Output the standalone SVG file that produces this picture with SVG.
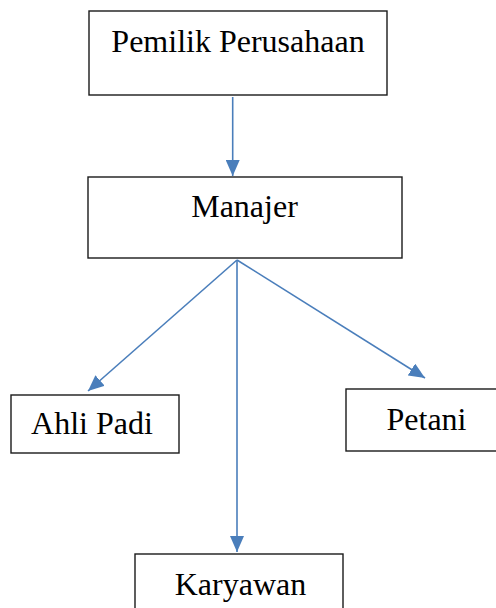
<svg xmlns="http://www.w3.org/2000/svg" width="496" height="608" viewBox="0 0 496 608">
<style>
.box{fill:#fff;stroke:#1a1a1a;stroke-width:1.4}
.lbl{font-family:'Liberation Serif','Times New Roman',serif;font-size:32px;fill:#000;text-anchor:middle}
.conn{stroke:#4a7ebb;stroke-width:1.6;fill:none}
</style>
<defs>
<marker id="arr" markerUnits="userSpaceOnUse" markerWidth="16" markerHeight="14" viewBox="0 0 16 14" refX="16" refY="7" orient="auto">
<path d="M0,0 L16,7 L0,14 Z" fill="#4a7ebb"/>
</marker>
</defs>
<rect width="496" height="608" fill="#fff"/>
<g id="pemilik"><rect class="box" x="89" y="11" width="298" height="84"/><text class="lbl" x="238" y="52">Pemilik Perusahaan</text></g>
<g id="manajer"><rect class="box" x="88" y="177" width="314" height="81"/><text class="lbl" x="244.5" y="217">Manajer</text></g>
<g id="ahli"><rect class="box" x="11" y="395" width="168" height="58"/><text class="lbl" x="92" y="434">Ahli Padi</text></g>
<g id="petani"><rect class="box" x="346" y="389" width="152" height="62"/><text class="lbl" x="426.5" y="430">Petani</text></g>
<g id="karyawan"><rect class="box" x="135" y="554" width="208" height="60"/><text class="lbl" x="240.5" y="595">Karyawan</text></g>
<g id="connectors">
<line class="conn" x1="232.7" y1="97" x2="232.7" y2="176" marker-end="url(#arr)"/>
<line class="conn" x1="237" y1="260" x2="88" y2="391" marker-end="url(#arr)"/>
<line class="conn" x1="237" y1="260" x2="237" y2="552" marker-end="url(#arr)"/>
<line class="conn" x1="237" y1="260" x2="425" y2="378" marker-end="url(#arr)"/>
</g>
</svg>
